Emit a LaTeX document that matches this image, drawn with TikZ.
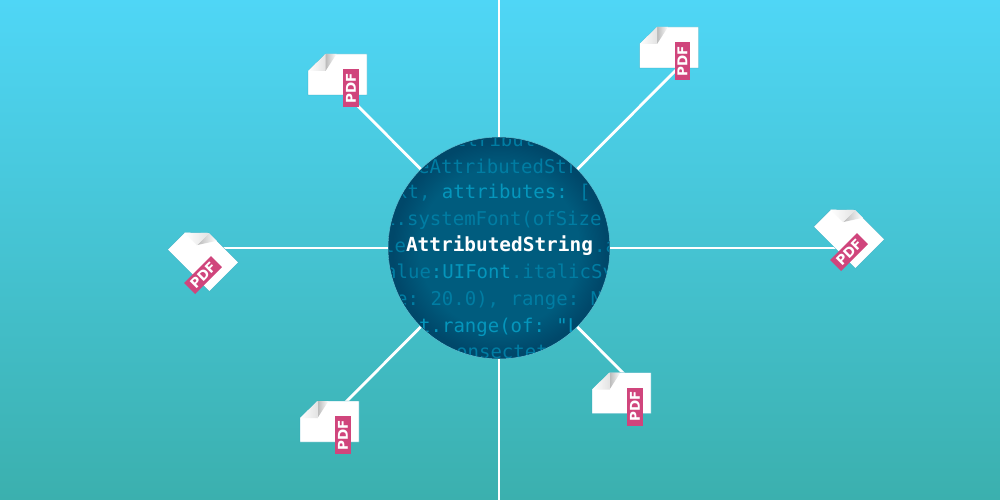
\documentclass[tikz,border=0pt]{standalone}
\usepackage{fontspec}
\setmainfont{DejaVu Sans}
\setmonofont{DejaVu Sans Mono}
\usetikzlibrary{positioning}

\definecolor{skytop}{HTML}{4FD6F6}
\definecolor{skybottom}{HTML}{3BB0AE}
\definecolor{hubblue}{HTML}{005C7E}
\definecolor{hubdark}{HTML}{00486A}
\definecolor{hubrim}{HTML}{62C3D6}
\definecolor{codebright}{HTML}{0596BC}
\definecolor{codedim}{HTML}{007DA3}
\definecolor{tagpink}{HTML}{D0457C}
\definecolor{paperedge}{HTML}{2FA6BC}

\pgfdeclareradialshading{hubshade}{\pgfpointorigin}{
  color(0bp)=(hubblue); color(18bp)=(hubblue); color(24bp)=(hubdark); color(25bp)=(hubdark); color(50bp)=(hubdark)}

\newcommand{\hi}[1]{\textcolor{codebright}{#1}}

\tikzset{
  pics/pdfdoc/.style={code={
    \path[fill=white,draw=paperedge,line width=.3pt] (-29.5,-3.5) -- (-12,-20.5) -- (29.5,-20.5) -- (29.5,20.5) -- (-29.5,20.5) -- cycle;
    \shade[left color=gray!55,right color=white] (-12,-20.5) -- (-1,-20.5) -- (-12,-3.5) -- cycle;
    \shade[left color=white,right color=gray!22] (-29.5,-3.5) -- (-12,-20.5) -- (-12,-3.5) -- cycle;
    \node[pdf tag] (-tag) at (13.5,13.5) {PDF};
  }}
}

\begin{document}
\begin{tikzpicture}[x=1pt,y=-1pt,
  link/.style={draw=white,line width=2.8pt},
  hub node/.style={circle,shading=hubshade,draw=hubrim,line width=.5pt,minimum size=222pt,inner sep=0pt},
  code line/.style={anchor=base west,inner sep=0pt,text=codedim,font=\ttfamily\fontsize{19}{19}\selectfont},
  title node/.style={text=white,inner sep=0pt,font=\ttfamily\bfseries\fontsize{19.4}{19.4}\selectfont},
  pdf tag/.style={rotate=90,transform shape,fill=tagpink,text=white,minimum width=38pt,minimum height=15.5pt,inner sep=0pt,font=\bfseries\fontsize{13.5}{13.5}\selectfont}]
    \shade[top color=skytop,bottom color=skybottom] (0,0) rectangle (1000,500);
    \useasboundingbox (0,0) rectangle (1000,500);

    \node[hub node] (hub) at (499,248) {};

    % free ends of the spokes
    \coordinate (top) at (499,0);
    \coordinate (bottom) at (499,500);
    \coordinate (e1) at (352,100);
    \coordinate (e2) at (680,66);
    \coordinate (e3) at (630,380);
    \coordinate (e4) at (340,408);
    \coordinate (e5) at (845,248);
    \coordinate (e6) at (205,248);

    \path[link]
    (hub) edge (top)
    (hub) edge (bottom)
    (hub) edge (e1)
    (hub) edge (e2)
    (hub) edge (e3)
    (hub) edge (e4)
    (hub) edge (e5)
    (hub) edge (e6)
    ;

    \begin{scope}
    \clip (hub.center) circle (110pt);
    \node[code line] (c1) at (455,146) {ttribut};
    \node[code line] (c2) at (418,173) {eAttributedStr};
    \node[code line] (c3) at (396,198) {xt, \hi{attributes:} [};
    \node[code line] (c4) at (384,225) {1.systemFont(ofSize};
    \node[code line] (c5) at (383,252) {le};
    \node[code line] (c6) at (594,252) {.a};
    \node[code line] (c7) at (385,278) {alue\hi{:UIFont}.italicSy};
    \node[code line] (c8) at (396,305) {e: 20.0), range: N};
    \node[code line] (c9) at (419,332) {\hi{t.range(of: "L}};
    \node[code line] (c10) at (456,358) {onsectet};
    \end{scope}
    \node[title node] (title) at (499.5,246) {AttributedString};

    \pic (d1) at (337.5,74.5) {pdfdoc};
    \pic (d2) at (669,47.5) {pdfdoc};
    \pic (d3) at (621.5,393) {pdfdoc};
    \pic (d4) at (329.5,421.5) {pdfdoc};
    \pic[rotate=-45] (d5) at (849,233) {pdfdoc};
    \pic[rotate=-45] (d6) at (203,256) {pdfdoc};
    \end{tikzpicture}
\end{document}
